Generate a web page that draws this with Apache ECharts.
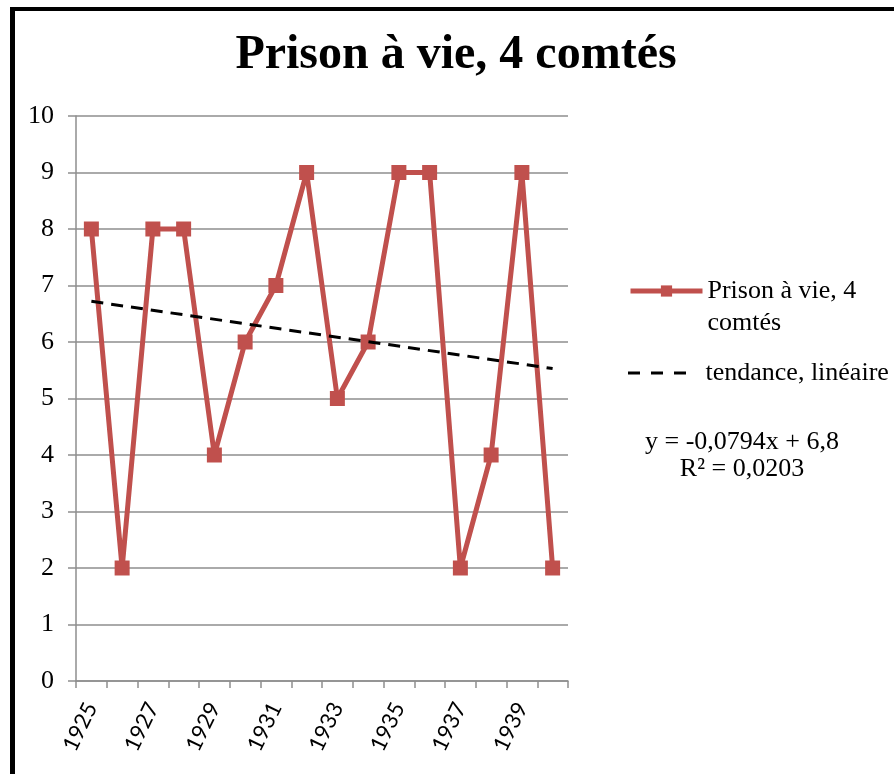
<!DOCTYPE html>
<html>
<head>
<meta charset="utf-8">
<script src="https://cdn.jsdelivr.net/npm/echarts@6.0.0/dist/echarts.min.js"></script>
<style>
  html, body { margin: 0; padding: 0; background: #fff; }
  #chart { width: 894px; height: 774px; }
</style>
</head>
<body>
<div id="chart"></div>
<script>
// données
const years = ["1925","1926","1927","1928","1929","1930","1931","1932",
               "1933","1934","1935","1936","1937","1938","1939","1940"]
const prisonVie = [8, 2, 8, 8, 4, 6, 7, 9, 5, 6, 9, 9, 2, 4, 9, 2]
// tendance linéaire : seulement les deux extrémités
const tendance = [6.72, null, null, null, null, null, null, null,
                  null, null, null, null, null, null, null, 5.53]
const yTicks = [0, 10, 1]   // min, max, intervalle

const serif = "Liberation Serif"
const seriesName = "Prison à vie, 4 comtés"
const trendName = "tendance, linéaire"
const red = "#C0504D"
const gray = "#8e8e8e"

const chart = echarts.init(document.getElementById("chart"))

const option = {
    backgroundColor: "#fff",
    animation: false,
    title: {
        text: seriesName,
        left: 451,
        textAlign: "center",
        top: 27,
        textStyle: {fontFamily: serif, fontWeight: "bold", fontSize: 48, color: "#000"}
    },
    grid: {left: 76, top: 116, width: 492, height: 565},
    legend: [{
        data: [seriesName],
        orient: "vertical",
        left: 623,
        top: 238,
        itemWidth: 72,
        itemHeight: 14,
        lineStyle: {width: 5},
        // ligne vide en tête : l'icône reste alignée sur la première ligne
        formatter: () => "\nPrison à vie, 4\ncomtés",
        textStyle: {fontFamily: serif, fontSize: 26, color: "#000", lineHeight: 32}
    }, {
        data: [{
            name: trendName,
            icon: "path://M0,0h12v3h-12z M23,0h12v3h-12z M46,0h12v3h-12z"
        }],
        orient: "vertical",
        left: 623,
        top: 352,
        itemWidth: 59,
        itemHeight: 3,
        itemStyle: {color: "#000"},
        textStyle: {fontFamily: serif, fontSize: 26, color: "#000", lineHeight: 32, padding: [0, 0, 0, 14]}
    }],
    xAxis: {
        type: "category",
        data: years,
        boundaryGap: true,
        axisLine: {lineStyle: {color: gray, width: 1.5}},
        axisTick: {show: true, interval: 0, length: 7, lineStyle: {color: gray, width: 1.5}},
        axisLabel: {
            interval: 1,
            rotate: 64,
            margin: 23,
            fontFamily: "Lato",
            fontSize: 22,
            color: "#000"
        },
        splitLine: {show: false}
    },
    yAxis: {
        type: "value",
        min: yTicks[0],
        max: yTicks[1],
        interval: yTicks[2],
        axisLine: {show: true, lineStyle: {color: gray, width: 1.5}},
        axisTick: {show: true, length: 8, lineStyle: {color: gray, width: 1.5}},
        axisLabel: {margin: 22, fontFamily: serif, fontSize: 26, color: "#000"},
        splitLine: {lineStyle: {color: gray, width: 1.5}}
    },
    series: [{
        name: seriesName,
        type: "line",
        data: prisonVie,
        symbol: "rect",
        symbolSize: 15,
        itemStyle: {color: red},
        lineStyle: {color: red, width: 5},
        z: 2
    }, {
        name: trendName,
        type: "line",
        data: tendance,
        connectNulls: true,
        symbol: "none",
        itemStyle: {color: "#000"},
        lineStyle: {color: "#000", width: 3, type: [12, 8]},
        z: 3
    }],
    graphic: [
        // cadre noir (haut et gauche)
        {type: "rect", shape: {x: 10, y: 7, width: 900, height: 4}, style: {fill: "#000"}, silent: true},
        {type: "rect", shape: {x: 10, y: 7, width: 5, height: 800}, style: {fill: "#000"}, silent: true},
        {
            type: "text",
            x: 742,
            y: 429,
            style: {
                text: "y = -0,0794x + 6,8\nR² = 0,0203",
                fontFamily: serif,
                fontSize: 26,
                lineHeight: 27,
                fill: "#000",
                align: "center",
                verticalAlign: "top"
            }
        }
    ]
}

chart.setOption(option)
</script>
</body>
</html>
